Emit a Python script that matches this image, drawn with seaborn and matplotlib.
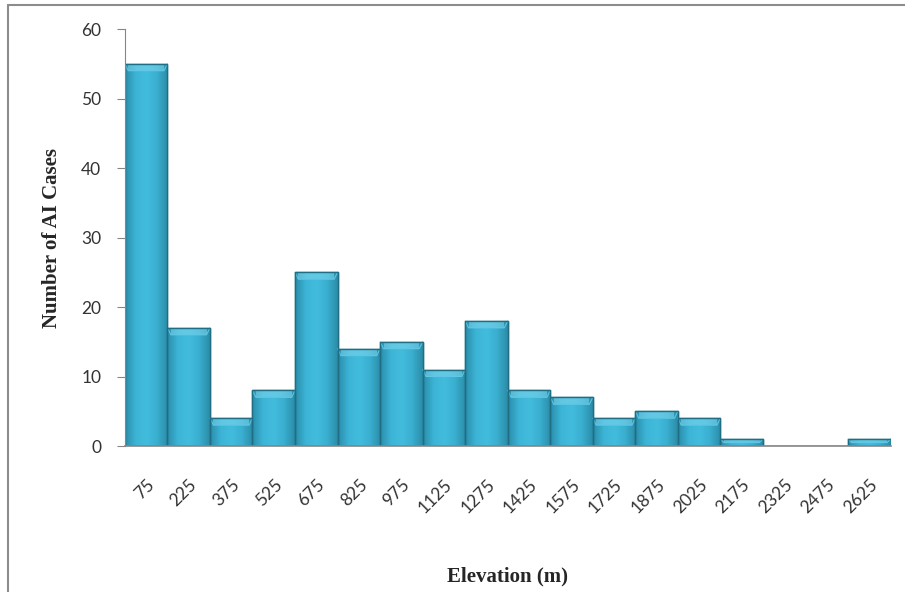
import numpy as np
import pandas as pd
import matplotlib
matplotlib.use('Agg')
import matplotlib.pyplot as plt
import seaborn as sns
from matplotlib.colors import LinearSegmentedColormap
from matplotlib.lines import Line2D

# data
elevation = ['75', '225', '375', '525', '675', '825', '975', '1125', '1275',
             '1425', '1575', '1725', '1875', '2025', '2175', '2325', '2475', '2625']
cases = [55, 17, 4, 8, 25, 14, 15, 11, 18, 8, 7, 4, 5, 4, 1, 0, 0, 1]

df = pd.DataFrame({'elevation': elevation, 'cases': cases})

sns.set_style('white')
fig = plt.figure(figsize=(9.05, 5.92), dpi=100)
ax = fig.add_axes([0.138, 0.2466, 0.846, 0.7044])

sns.barplot(x='elevation', y='cases', data=df, ax=ax, width=1.0,
            color='#3AB0D2', edgecolor='#1F6E84', linewidth=1.0, saturation=1)

# Excel-like shaded fill: gradient across each bar plus a light bevel on top
cmap = LinearSegmentedColormap.from_list('bar', ['#2A8EAB', '#3CB4D6', '#42BCDD', '#3AAFD0', '#2B8DA9'])
grad = np.linspace(0, 1, 64).reshape(1, -1)
for p in ax.patches:
    x0, y0 = p.get_x(), p.get_y()
    w, h = p.get_width(), p.get_height()
    if h <= 0:
        continue
    im = ax.imshow(grad, cmap=cmap, aspect='auto', extent=(x0, x0 + w, y0, y0 + h),
                   zorder=p.get_zorder() + 0.1)
    im.set_clip_path(p)
    bev = min(1.0, h * 0.5)
    ax.fill_between([x0 + 0.08, x0 + w - 0.08], y0 + h - bev, y0 + h,
                    color='#7FD6EE', alpha=0.55, lw=0, zorder=p.get_zorder() + 0.2)
    ax.plot([x0, x0 + 0.08, x0 + w - 0.08, x0 + w], [y0 + h, y0 + h - bev, y0 + h - bev, y0 + h],
            color='#5FC6E3', lw=0.8, zorder=p.get_zorder() + 0.25)
    ax.add_patch(plt.Rectangle((x0, y0), w, h, fill=False, ec='#1F6E84', lw=1.0,
                               zorder=p.get_zorder() + 0.3))

ax.set_xlim(-0.5, len(elevation) - 0.5)
ax.set_ylim(0, 60)
ax.set_yticks(range(0, 61, 10))

for s in ['top', 'right']:
    ax.spines[s].set_visible(False)
ax.spines['left'].set_color('#868686')
ax.spines['bottom'].set_color('#868686')
ax.spines['bottom'].set_linewidth(1.2)
ax.tick_params(axis='y', which='major', direction='out', length=6, color='#868686',
               labelsize=12.5, labelcolor='#333333', left=True, pad=11)
ax.tick_params(axis='x', length=0, labelsize=12.5, labelcolor='#333333', pad=22)

for lbl in ax.get_yticklabels() + ax.get_xticklabels():
    lbl.set_family('Lato')
plt.setp(ax.get_xticklabels(), rotation=45, ha='right', rotation_mode='anchor')

ax.set_xlabel('Elevation (m)', family='Liberation Serif', fontweight='bold',
              fontsize=15, labelpad=36)
ax.set_ylabel('Number of AI Cases', family='Liberation Serif', fontweight='bold',
              fontsize=15, labelpad=14)

# chart area border (left and top only visible)
fig.add_artist(Line2D([7.5 / 905, 1.0], [1 - 4.5 / 592, 1 - 4.5 / 592],
                      color='#8c8c8c', lw=1.5, transform=fig.transFigure))
fig.add_artist(Line2D([7.5 / 905, 7.5 / 905], [0, 1 - 4.5 / 592],
                      color='#8c8c8c', lw=1.5, transform=fig.transFigure))

fig.savefig('out.png', dpi=100)
